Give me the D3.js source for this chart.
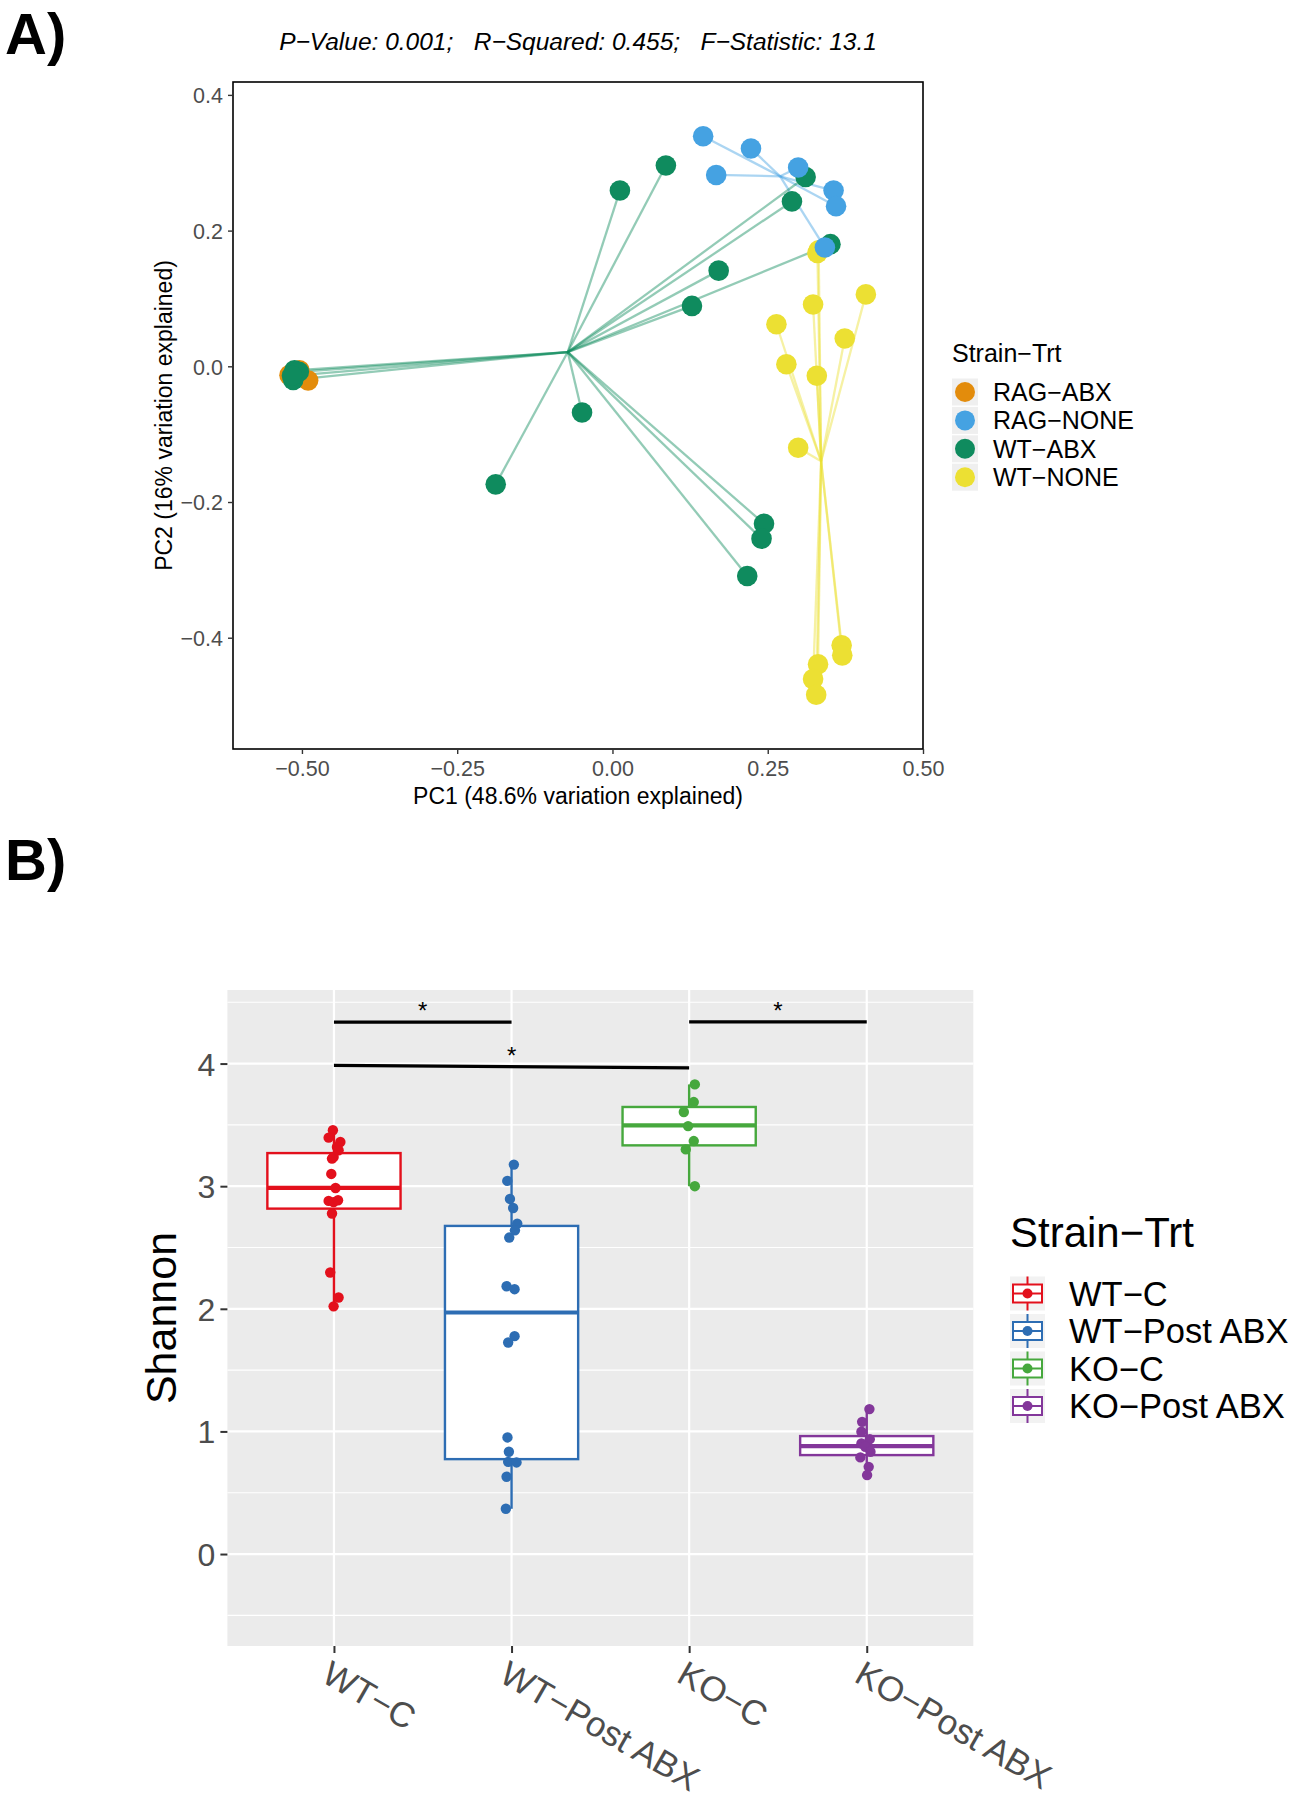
<!DOCTYPE html>
<html>
<head>
<meta charset="utf-8">
<script src="https://cdn.jsdelivr.net/npm/d3@7"></script>
<style>
  body { margin: 0; background: #fff; }
  text { font-family: "Liberation Sans", Arial, Helvetica, sans-serif; }
</style>
</head>
<body>
<div class="canvas"></div>
<script>
// ---------- panel A : PCoA ----------
const groupsA = ["RAG−ABX", "RAG−NONE", "WT−ABX", "WT−NONE"];
const colorsA = ["#E38C0C", "#45A2E2", "#0F8B5E", "#ECE033"];

const ragAbxPC1 = [-0.520, -0.504, -0.490, -0.512];
const ragAbxPC2 = [-0.013, -0.006, -0.021, -0.008];
const ragNonePC1 = [0.146, 0.223, 0.167, 0.299, 0.356, 0.360, 0.342];
const ragNonePC2 = [0.339, 0.321, 0.282, 0.293, 0.259, 0.236, 0.175];
const wtAbxPC1 = [0.012, 0.086, 0.311, 0.289, 0.351, 0.171, 0.128, -0.049, -0.188, 0.244, 0.240, 0.217, -0.514, -0.512, -0.505, -0.516];
const wtAbxPC2 = [0.259, 0.296, 0.279, 0.243, 0.180, 0.141, 0.089, -0.068, -0.174, -0.232, -0.254, -0.309, -0.020, -0.006, -0.008, -0.014];
const wtNonePC1 = [0.332, 0.330, 0.408, 0.323, 0.264, 0.374, 0.280, 0.329, 0.299, 0.369, 0.370, 0.331, 0.323, 0.328];
const wtNonePC2 = [0.171, 0.167, 0.106, 0.091, 0.062, 0.041, 0.003, -0.014, -0.120, -0.411, -0.426, -0.439, -0.461, -0.484];

// group centroids (betadisper), same order as groupsA
const centroidPC1 = [-0.507, 0.270, -0.072, 0.336];
const centroidPC2 = [-0.012, 0.280, 0.021, -0.140];

const xTicksA = [-0.5, -0.25, 0, 0.25, 0.5];
const yTicksA = [0.4, 0.2, 0, -0.2, -0.4];
const statsTitle = "P−Value: 0.001;   R−Squared: 0.455;   F−Statistic: 13.1";

// ---------- panel B : Shannon ----------
const catsB = ["WT−C", "WT−Post ABX", "KO−C", "KO−Post ABX"];
const colorsB = ["#E3101C", "#2D6DB3", "#46A83D", "#83379A"];

const wtcVals = [3.456, 3.396, 3.36, 3.32, 3.293, 3.238, 3.225, 3.10, 2.985, 2.88, 2.87, 2.885, 2.777, 2.296, 2.092, 2.02];
const wtcJit = [-0.006, -0.03, 0.036, 0.017, 0.026, -0.002, -0.011, -0.015, 0.009, -0.03, -0.002, 0.023, -0.011, -0.021, 0.026, -0.002];
const wtpVals = [3.176, 3.043, 2.896, 2.822, 2.695, 2.64, 2.581, 2.184, 2.16, 1.777, 1.725, 0.951, 0.834, 0.752, 0.747, 0.63, 0.369];
const wtpJit = [0.013, -0.024, -0.009, 0.009, 0.032, 0.019, -0.013, -0.028, 0.017, 0.017, -0.019, -0.023, -0.015, -0.019, 0.028, -0.028, -0.032];
const kocVals = [3.83, 3.686, 3.605, 3.49, 3.368, 3.30, 3.00];
const kocJit = [0.032, 0.026, -0.03, -0.006, 0.026, -0.019, 0.032];
const kopVals = [1.182, 1.078, 0.997, 0.937, 0.902, 0.875, 0.834, 0.788, 0.711, 0.644];
const kopJit = [0.015, -0.026, -0.03, 0.017, -0.03, -0.008, 0.021, -0.036, 0.011, 0.002];

// box statistics, order as catsB
const boxQ1 = [2.817, 0.774, 3.333, 0.807];
const boxMed = [2.987, 1.970, 3.496, 0.880];
const boxQ3 = [3.270, 2.676, 3.646, 0.962];
const whiskLo = [2.02, 0.369, 3.00, 0.644];
const whiskHi = [3.456, 3.176, 3.83, 1.182];

// significance brackets
const sigFrom = [0, 0, 2];
const sigTo = [1, 2, 3];
const sigYFrom = [4.338, 3.985, 4.34];
const sigYTo = [4.338, 3.965, 4.34];
const sigLabel = ["*", "*", "*"];

const yTicksB = [0, 1, 2, 3, 4];
const yMinorB = [-0.5, 0.5, 1.5, 2.5, 3.5, 4.5];

const svg = d3
  .select(".canvas")
  .append("svg")
  .attr("width", 1296)
  .attr("height", 1800);

// ================= PANEL A =================
svg.append("text")
  .attr("x", 5).attr("y", 54)
  .attr("font-size", 58).attr("font-weight", "bold")
  .text("A)");

const xA = d3.scaleLinear().domain([-0.611, 0.5]).range([233, 923]);
const yA = d3.scaleLinear().domain([-0.564, 0.419]).range([749, 82]);

svg.append("text")
  .attr("x", (xA.range()[0] + xA.range()[1]) / 2)
  .attr("y", 50)
  .attr("text-anchor", "middle")
  .attr("font-size", 24.5)
  .attr("font-style", "italic")
  .attr("xml:space", "preserve")
  .style("white-space", "pre")
  .text(statsTitle);

const pointsA = [
  { pc1: ragAbxPC1, pc2: ragAbxPC2 },
  { pc1: ragNonePC1, pc2: ragNonePC2 },
  { pc1: wtAbxPC1, pc2: wtAbxPC2 },
  { pc1: wtNonePC1, pc2: wtNonePC2 }
].map((g, gi) => g.pc1.map((v, i) => ({ g: gi, x: v, y: g.pc2[i] })));

const graphA = svg.append("g");

// spider lines centroid -> sample
pointsA.forEach((pts, gi) => {
  graphA.selectAll(null)
    .data(pts)
    .enter()
    .append("line")
    .attr("x1", xA(centroidPC1[gi]))
    .attr("y1", yA(centroidPC2[gi]))
    .attr("x2", d => xA(d.x))
    .attr("y2", d => yA(d.y))
    .attr("stroke", colorsA[gi])
    .attr("stroke-opacity", 0.45)
    .attr("stroke-width", 2.3);
});

// points: yellow, orange, green, blue on top
[3, 0, 2, 1].forEach(gi => {
  graphA.selectAll(null)
    .data(pointsA[gi])
    .enter()
    .append("circle")
    .attr("cx", d => xA(d.x))
    .attr("cy", d => yA(d.y))
    .attr("r", 10.3)
    .attr("fill", colorsA[gi]);
});

// frame
svg.append("rect")
  .attr("x", xA.range()[0]).attr("y", yA.range()[1])
  .attr("width", xA.range()[1] - xA.range()[0])
  .attr("height", yA.range()[0] - yA.range()[1])
  .attr("fill", "none").attr("stroke", "#000").attr("stroke-width", 1.6);

const xAxisA = svg.append("g")
  .attr("transform", `translate(0, ${yA.range()[0]})`)
  .call(d3.axisBottom(xA).tickValues(xTicksA).tickSize(5).tickPadding(4).tickFormat(d3.format(".2f")));
const yAxisA = svg.append("g")
  .attr("transform", `translate(${xA.range()[0]}, 0)`)
  .call(d3.axisLeft(yA).tickValues(yTicksA).tickSize(5).tickPadding(5).tickFormat(d3.format(".1f")));
[xAxisA, yAxisA].forEach(a => {
  a.select(".domain").remove();
  a.selectAll("line").attr("stroke", "#333").attr("stroke-width", 1.4);
  a.selectAll("text").attr("font-size", 21.5).attr("fill", "#4D4D4D")
    .attr("font-family", "Liberation Sans, Arial, sans-serif");
});
xAxisA.selectAll("text").attr("dy", "0.85em");
yAxisA.selectAll("text").attr("dy", "0.36em");

svg.append("text")
  .attr("x", (xA.range()[0] + xA.range()[1]) / 2).attr("y", 804)
  .attr("text-anchor", "middle").attr("font-size", 23)
  .text("PC1 (48.6% variation explained)");
svg.append("text")
  .attr("transform", `translate(172, ${(yA.range()[0] + yA.range()[1]) / 2}) rotate(-90)`)
  .attr("text-anchor", "middle").attr("font-size", 23)
  .text("PC2 (16% variation explained)");

// legend A
const legA = svg.append("g").attr("transform", "translate(952, 0)");
legA.append("text").attr("x", 0).attr("y", 362).attr("font-size", 25).text("Strain−Trt");
groupsA.forEach((name, i) => {
  const cy = 392 + i * 28.4;
  legA.append("rect").attr("x", 0).attr("y", cy - 13.5).attr("width", 26).attr("height", 27).attr("fill", "#EFEFEF");
  legA.append("circle").attr("cx", 13).attr("cy", cy).attr("r", 10).attr("fill", colorsA[i]);
  legA.append("text").attr("x", 41).attr("y", cy + 9).attr("font-size", 25).text(name);
});

// ================= PANEL B =================
svg.append("text")
  .attr("x", 5).attr("y", 880)
  .attr("font-size", 58).attr("font-weight", "bold")
  .text("B)");

const xB = d3.scalePoint().domain(catsB).range([227.4, 973.3]).padding(0.6);
const yB = d3.scaleLinear().domain([-0.75, 4.6]).range([1646, 990]);
const step = xB.step();
const boxHalf = 0.375 * step;

const graphB = svg.append("g");
graphB.append("rect")
  .attr("x", xB.range()[0]).attr("y", yB.range()[1])
  .attr("width", xB.range()[1] - xB.range()[0])
  .attr("height", yB.range()[0] - yB.range()[1])
  .attr("fill", "#EBEBEB");

// grid
graphB.selectAll(".minor").data(yMinorB).enter().append("line")
  .attr("x1", xB.range()[0]).attr("x2", xB.range()[1])
  .attr("y1", d => yB(d)).attr("y2", d => yB(d))
  .attr("stroke", "#fff").attr("stroke-width", 1.1);
graphB.selectAll(".major").data(yTicksB).enter().append("line")
  .attr("x1", xB.range()[0]).attr("x2", xB.range()[1])
  .attr("y1", d => yB(d)).attr("y2", d => yB(d))
  .attr("stroke", "#fff").attr("stroke-width", 2.2);
graphB.selectAll(".vmajor").data(catsB).enter().append("line")
  .attr("x1", d => xB(d)).attr("x2", d => xB(d))
  .attr("y1", yB.range()[0]).attr("y2", yB.range()[1])
  .attr("stroke", "#fff").attr("stroke-width", 2.2);

// boxes
catsB.forEach((c, i) => {
  const cx = xB(c);
  const col = colorsB[i];
  graphB.append("line")
    .attr("x1", cx).attr("x2", cx)
    .attr("y1", yB(whiskHi[i])).attr("y2", yB(boxQ3[i]))
    .attr("stroke", col).attr("stroke-width", 2.4);
  graphB.append("line")
    .attr("x1", cx).attr("x2", cx)
    .attr("y1", yB(boxQ1[i])).attr("y2", yB(whiskLo[i]))
    .attr("stroke", col).attr("stroke-width", 2.4);
  graphB.append("rect")
    .attr("x", cx - boxHalf).attr("y", yB(boxQ3[i]))
    .attr("width", boxHalf * 2).attr("height", yB(boxQ1[i]) - yB(boxQ3[i]))
    .attr("fill", "#fff").attr("stroke", col).attr("stroke-width", 2.4);
  graphB.append("line")
    .attr("x1", cx - boxHalf).attr("x2", cx + boxHalf)
    .attr("y1", yB(boxMed[i])).attr("y2", yB(boxMed[i]))
    .attr("stroke", col).attr("stroke-width", 4.2);
});

// jittered points
[[wtcVals, wtcJit], [wtpVals, wtpJit], [kocVals, kocJit], [kopVals, kopJit]].forEach(([vals, jit], i) => {
  graphB.selectAll(null)
    .data(vals.map((v, k) => ({ v: v, j: jit[k] })))
    .enter()
    .append("circle")
    .attr("cx", d => xB(catsB[i]) + d.j * step)
    .attr("cy", d => yB(d.v))
    .attr("r", 5.2)
    .attr("fill", colorsB[i]);
});

// significance bars
sigFrom.forEach((f, i) => {
  const x1 = xB(catsB[f]);
  const x2 = xB(catsB[sigTo[i]]);
  graphB.append("line")
    .attr("x1", x1).attr("x2", x2)
    .attr("y1", yB(sigYFrom[i])).attr("y2", yB(sigYTo[i]))
    .attr("stroke", "#000").attr("stroke-width", 3.2);
  graphB.append("text")
    .attr("x", (x1 + x2) / 2)
    .attr("y", (yB(sigYFrom[i]) + yB(sigYTo[i])) / 2 - 3)
    .attr("text-anchor", "middle").attr("font-size", 24)
    .text(sigLabel[i]);
});

// axes B
const yAxisB = svg.append("g")
  .attr("transform", `translate(${xB.range()[0]}, 0)`)
  .call(d3.axisLeft(yB).tickValues(yTicksB).tickSize(7).tickPadding(5).tickFormat(d3.format("d")));
const xAxisB = svg.append("g")
  .attr("transform", `translate(0, ${yB.range()[0]})`)
  .call(d3.axisBottom(xB).tickSize(7).tickPadding(4));
[xAxisB, yAxisB].forEach(a => {
  a.select(".domain").remove();
  a.selectAll("line").attr("stroke", "#333").attr("stroke-width", 2);
  a.selectAll("text").attr("font-size", 32).attr("fill", "#4D4D4D")
    .attr("font-family", "Liberation Sans, Arial, sans-serif");
});
yAxisB.selectAll("text").attr("dy", "0.36em");
xAxisB.selectAll("text")
  .attr("font-size", 35)
  .attr("text-anchor", "start")
  .attr("x", 0).attr("y", 0).attr("dy", "0.72em")
  .attr("transform", "translate(-2, 13) rotate(30)");

svg.append("text")
  .attr("transform", `translate(176, ${(yB.range()[0] + yB.range()[1]) / 2}) rotate(-90)`)
  .attr("text-anchor", "middle").attr("font-size", 43)
  .text("Shannon");

// legend B
const legB = svg.append("g").attr("transform", "translate(1010, 0)");
legB.append("text").attr("x", 0).attr("y", 1247).attr("font-size", 42).text("Strain−Trt");
catsB.forEach((name, i) => {
  const cy = 1293.5 + i * 37.5;
  const col = colorsB[i];
  legB.append("rect").attr("x", 0).attr("y", cy - 17).attr("width", 35).attr("height", 34).attr("fill", "#F2F2F2");
  legB.append("line").attr("x1", 17.5).attr("x2", 17.5).attr("y1", cy - 17).attr("y2", cy + 17)
    .attr("stroke", col).attr("stroke-width", 2);
  legB.append("rect").attr("x", 3).attr("y", cy - 9).attr("width", 29).attr("height", 18)
    .attr("fill", "#fff").attr("stroke", col).attr("stroke-width", 2);
  legB.append("line").attr("x1", 3).attr("x2", 32).attr("y1", cy).attr("y2", cy)
    .attr("stroke", col).attr("stroke-width", 2);
  legB.append("circle").attr("cx", 17.5).attr("cy", cy).attr("r", 5).attr("fill", col);
  legB.append("text").attr("x", 59).attr("y", cy + 12).attr("font-size", 34.5).text(name);
});
</script>
</body>
</html>
